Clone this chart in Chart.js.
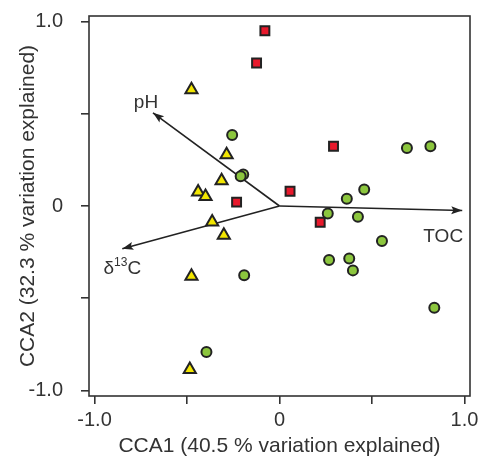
<!DOCTYPE html>
<html lang="en">
<head>
    <meta charset="UTF-8">
    <title>CCA biplot</title>
    <script src="https://cdn.jsdelivr.net/npm/chart.js"></script>
    <style>
        body {
            margin: 0;
            padding: 0;
            background-color: #fff;
        }
        .chart-container {
            width: 482px;
            height: 457px;
            position: relative;
        }
    </style>
</head>
<body>
    <div class="chart-container">
        <canvas id="ccaChart"></canvas>
    </div>

    <script>
        // sample scores
        var squareX = [-0.079, -0.124, 0.292, 0.057, -0.232, 0.220];
        var squareY = [0.950, 0.775, 0.324, 0.080, 0.021, -0.088];

        var triangleX = [-0.476, -0.286, -0.313, -0.440, -0.400, -0.364, -0.301, -0.476, -0.485];
        var triangleY = [0.630, 0.278, 0.137, 0.076, 0.052, -0.087, -0.159, -0.381, -0.886];

        var circleX = [-0.256, -0.196, -0.210, 0.689, 0.816, 0.458, 0.364, 0.261, 0.424, 0.554, 0.268, 0.377, 0.397, 0.837, -0.191, -0.395];
        var circleY = [0.385, 0.171, 0.161, 0.315, 0.324, 0.089, 0.039, -0.041, -0.058, -0.190, -0.293, -0.284, -0.349, -0.551, -0.376, -0.792];

        // environmental vectors
        var vectorNames = ['pH', 'δ13C', 'TOC'];
        var vectorX = [-0.684, -0.850, 0.988];
        var vectorY = [0.505, -0.232, -0.024];

        var tickValues = [-1, -0.5, 0, 0.5, 1];
        var tickLabels = ['-1.0', '', '0', '', '1.0'];

        function toPoints(xs, ys) {
            return xs.map(function (x, i) { return { x: x, y: ys[i] }; });
        }

        var ink = '#222';
        var fontName = "'Liberation Sans', Arial, sans-serif";

        var vectorDatasets = vectorNames.map(function (name, i) {
            return {
                label: name,
                type: 'line',
                data: [{ x: 0, y: 0 }, { x: vectorX[i], y: vectorY[i] }],
                borderColor: ink,
                borderWidth: 1.6,
                pointRadius: 0,
                fill: false
            };
        });

        // pixel offsets of the vector names from the arrow tips
        var labelOffsets = { 'pH': [-7, -10], 'δ13C': [0, 20], 'TOC': [-19, 26] };

        var arrowPlugin = {
            id: 'arrows',
            afterDatasetsDraw: function (chart) {
                var ctx = chart.ctx;
                var xs = chart.scales.x, ys = chart.scales.y;
                ctx.save();
                vectorNames.forEach(function (name, i) {
                    var x0 = xs.getPixelForValue(0), y0 = ys.getPixelForValue(0);
                    var x1 = xs.getPixelForValue(vectorX[i]), y1 = ys.getPixelForValue(vectorY[i]);
                    var a = Math.atan2(y1 - y0, x1 - x0);
                    var len = 11, half = 4;
                    ctx.fillStyle = ink;
                    ctx.beginPath();
                    ctx.moveTo(x1, y1);
                    ctx.lineTo(x1 - len * Math.cos(a) + half * Math.sin(a), y1 - len * Math.sin(a) - half * Math.cos(a));
                    ctx.lineTo(x1 - len * Math.cos(a) * 0.8, y1 - len * Math.sin(a) * 0.8);
                    ctx.lineTo(x1 - len * Math.cos(a) - half * Math.sin(a), y1 - len * Math.sin(a) + half * Math.cos(a));
                    ctx.closePath();
                    ctx.fill();

                    var off = labelOffsets[name];
                    var lx = x1 + off[0], ly = y1 + off[1];
                    ctx.fillStyle = '#333';
                    ctx.textBaseline = 'middle';
                    if (name === 'δ13C') {
                        var big = '19px ' + fontName, small = '12px ' + fontName;
                        ctx.font = big;
                        var wd = ctx.measureText('δ').width, wc = ctx.measureText('C').width;
                        ctx.font = small;
                        var ws = ctx.measureText('13').width;
                        var start = lx - (wd + ws + wc) / 2;
                        ctx.textAlign = 'left';
                        ctx.font = big;
                        ctx.fillText('δ', start, ly);
                        ctx.font = small;
                        ctx.fillText('13', start + wd, ly - 6);
                        ctx.font = big;
                        ctx.fillText('C', start + wd + ws, ly);
                    } else {
                        ctx.font = '19px ' + fontName;
                        ctx.textAlign = 'center';
                        ctx.fillText(name, lx, ly);
                    }
                });
                ctx.restore();
            }
        };

        var framePlugin = {
            id: 'frame',
            afterDraw: function (chart) {
                var a = chart.chartArea, ctx = chart.ctx;
                ctx.save();
                ctx.strokeStyle = '#333';
                ctx.lineWidth = 1.6;
                ctx.strokeRect(a.left, a.top, a.right - a.left, a.bottom - a.top);
                ctx.restore();
            }
        };

        function fixedTicks(scale) {
            scale.ticks = tickValues.map(function (v) { return { value: v }; });
        }
        function tickText(value) {
            var i = tickValues.indexOf(value);
            return i >= 0 ? tickLabels[i] : '';
        }

        var ctxCca = document.getElementById('ccaChart').getContext('2d');
        var ccaChart = new Chart(ctxCca, {
            type: 'scatter',
            data: {
                datasets: [{
                    label: 'squares',
                    data: toPoints(squareX, squareY),
                    pointStyle: 'rect',
                    pointRadius: 6.3,
                    backgroundColor: '#e8192c',
                    borderColor: ink,
                    borderWidth: 2
                }, {
                    label: 'triangles',
                    data: toPoints(triangleX, triangleY),
                    pointStyle: 'triangle',
                    pointRadius: 7,
                    backgroundColor: '#f2e600',
                    borderColor: ink,
                    borderWidth: 2
                }, {
                    label: 'circles',
                    data: toPoints(circleX, circleY),
                    pointStyle: 'circle',
                    pointRadius: 5,
                    backgroundColor: '#8cc63e',
                    borderColor: ink,
                    borderWidth: 2
                }].concat(vectorDatasets)
            },
            options: {
                responsive: true,
                maintainAspectRatio: false,
                animation: false,
                layout: {
                    padding: { left: 0, right: 12, top: 16, bottom: 0 }
                },
                plugins: {
                    legend: { display: false },
                    tooltip: { enabled: false }
                },
                scales: {
                    x: {
                        type: 'linear',
                        min: -1.03,
                        max: 1.03,
                        afterBuildTicks: fixedTicks,
                        afterFit: function (scale) {
                            scale.height = 61;
                            scale.paddingLeft = 0;
                            scale.paddingRight = 0;
                        },
                        grid: { drawOnChartArea: false, drawTicks: true, tickLength: 8, color: '#333', lineWidth: 1.6 },
                        border: { display: false },
                        ticks: {
                            autoSkip: false,
                            maxRotation: 0,
                            padding: 4,
                            color: '#333',
                            font: { family: fontName, size: 20 },
                            callback: tickText
                        },
                        title: {
                            display: true,
                            text: 'CCA1 (40.5 % variation explained)',
                            color: '#333',
                            padding: 0,
                            font: { family: fontName, size: 21, lineHeight: 1 }
                        }
                    },
                    y: {
                        type: 'linear',
                        min: -1.03,
                        max: 1.03,
                        afterBuildTicks: fixedTicks,
                        afterFit: function (scale) {
                            scale.width = 89;
                            scale.paddingTop = 0;
                            scale.paddingBottom = 0;
                        },
                        grid: { drawOnChartArea: false, drawTicks: true, tickLength: 8, color: '#333', lineWidth: 1.6 },
                        border: { display: false },
                        ticks: {
                            autoSkip: false,
                            padding: 18,
                            color: '#333',
                            font: { family: fontName, size: 20 },
                            callback: tickText
                        },
                        title: {
                            display: true,
                            text: 'CCA2 (32.3 % variation explained)',
                            color: '#333',
                            padding: { top: 18, bottom: 0 },
                            font: { family: fontName, size: 21, lineHeight: 1 }
                        }
                    }
                }
            },
            plugins: [arrowPlugin, framePlugin]
        });
    </script>
</body>
</html>
